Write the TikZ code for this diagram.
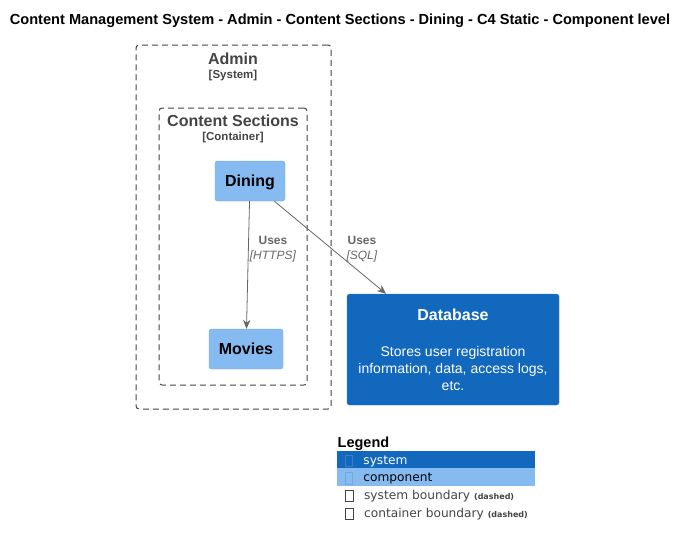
\documentclass[tikz,border=0pt]{standalone}
\usepackage{fontspec}
\setmainfont{Liberation Sans}
\newfontfamily\legendfont{DejaVu Sans}
\usepackage{xcolor}
\usepackage{tikz}
\usetikzlibrary{arrows.meta}

\definecolor{sysfill}{HTML}{1168BD}
\definecolor{sysline}{HTML}{3C7FC0}
\definecolor{compfill}{HTML}{85BBF0}
\definecolor{compline}{HTML}{78A8D8}
\definecolor{boundgray}{HTML}{444444}
\definecolor{edgegray}{HTML}{666666}

\newcommand{\nobox}{\raisebox{-2pt}{\fboxsep=0pt\fboxrule=0.7pt\fbox{\rule{0pt}{10.5pt}\hspace{7pt}}}}
\newcommand{\px}[1]{\fontsize{#1}{#1}\selectfont}

\begin{document}
\begin{tikzpicture}[x=1pt, y=-1pt]
      \tikzstyle{bound} = [draw=boundgray, dash pattern=on 6pt off 4pt, rounded corners=3pt, line width=1pt]
      \tikzstyle{comp} = [rectangle, fill=compfill, draw=compline, rounded corners=2.5pt, minimum height=40pt, text height=11.5pt, text depth=0pt, font=\bfseries\px{16}]
      \tikzstyle{edge} = [->, >={Stealth[length=9pt, width=7.5pt]}, draw=edgegray, line width=0.8pt]
      \tikzstyle{elabel} = [align=center, text=edgegray, font=\px{12}, inner sep=0pt]
      \tikzstyle{legrow} = [rectangle, minimum width=198pt, minimum height=17.5pt, text width=182pt, text height=9pt, text depth=0pt, inner xsep=8pt, inner ysep=0pt, align=left, font=\legendfont\px{12.2}]
      \tikzstyle{legtext} = [anchor=west, inner sep=0pt, text=boundgray, font=\legendfont\px{12.2}]

      \useasboundingbox (0,0) rectangle (687,547);

      \node[font=\bfseries\px{14.6}] (title) at (340,20.5) {Content Management System - Admin - Content Sections - Dining - C4 Static - Component level};

      % boundaries
      \node[bound, minimum width=195pt, minimum height=364pt] (admin) at (233.5,227) {};
      \node[text=boundgray, font=\bfseries\px{16}] (admintitle) at (233,59) {Admin};
      \node[text=boundgray, font=\bfseries\px{11.5}] (admintype) at (233,76) {[System]};
      \node[bound, minimum width=148pt, minimum height=277pt] (sections) at (233,246.5) {};
      \node[text=boundgray, font=\bfseries\px{16}] (sectitle) at (233,121) {Content Sections};
      \node[text=boundgray, font=\bfseries\px{11.5}] (sectype) at (233,138) {[Container]};

      % components
      \node[comp, minimum width=70pt] (dining) at (250,181) {Dining};
      \node[comp, minimum width=74pt] (movies) at (246,349) {Movies};
      \node[rectangle, fill=sysfill, draw=sysline, rounded corners=2.5pt, minimum width=212pt, minimum height=111pt, text=white, align=center, font=\px{14}] (database) at (453,349.5)
        {{\bfseries\px{16}Database}\\[22pt]Stores user registration\\[3pt]information, data, access logs,\\[3pt]etc.};

      \draw[edge] (dining) to (movies);
      \draw[edge] (dining) to (database);
      \node[elabel] (l1) at (273,249) {\textbf{Uses}\\[3pt]\textit{[HTTPS]}};
      \node[elabel] (l2) at (362,249) {\textbf{Uses}\\[3pt]\textit{[SQL]}};

      % legend
      \node[anchor=west, inner sep=0pt, font=\bfseries\px{14.5}] (legend) at (337.5,443.5) {Legend};
      \node[legrow, fill=sysfill, text=white] (legsys) at (435.5,459.5) {\textcolor{sysline}{\nobox}\hspace{10.5pt}system};
      \node[legrow, fill=compfill, text=black] (legcomp) at (435.5,477) {\textcolor{compline}{\nobox}\hspace{10.5pt}component};
      \node[legtext] (legsysb) at (345,496) {\nobox\hspace{10.5pt}system boundary {\bfseries\px{8}(dashed)}};
      \node[legtext] (legconb) at (345,514) {\nobox\hspace{10.5pt}container boundary {\bfseries\px{8}(dashed)}};
    \end{tikzpicture}
\end{document}
